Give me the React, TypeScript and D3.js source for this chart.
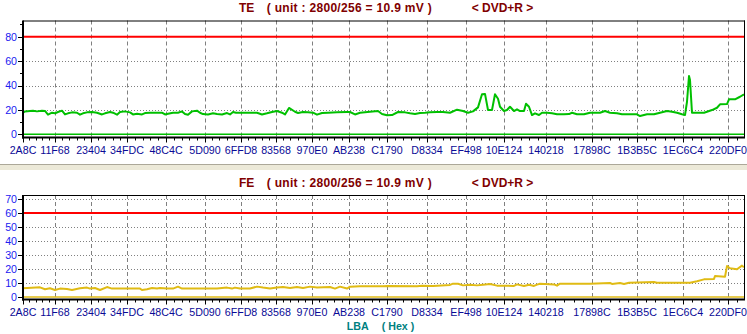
import React from "react";
import * as d3 from "d3";

// ---- data ----
const xTickLabels = [
  "2A8C", "11F68", "23404", "34FDC", "48C4C", "5D090", "6FFD8", "83568", "970E0",
  "AB238", "C1790", "D8334", "EF498", "10E124", "140218", "17898C", "1B3B5C", "1EC6C4", "220DF0",
];
// sample index at which each LBA label sits
const xTickSamples = [0, 32, 68, 104, 143, 182, 218, 253, 289, 326, 364, 404, 443, 481, 523, 569, 614, 660, 705];
const sampleMax = 721;

const teTicks = [0, 20, 40, 60, 80];
const teMinorTicks = [10, 30, 50, 70, 90];
const feTicks = [0, 10, 20, 30, 40, 50, 60, 70];
const teLimit = 80;
const feLimit = 60;

const teSeries: [number, number][] = [
  [0, 17.7], [2, 18.8], [7, 19.2], [10, 19.4], [14, 18.8], [19, 19.4], [22, 19.2], [25, 16.1],
  [29, 17.7], [32, 17.2], [35, 18.3], [39, 19.4], [42, 16.3], [45, 17.2], [49, 18.0], [54, 17.7],
  [57, 16.1], [60, 17.2], [64, 18.0], [69, 18.3], [74, 17.7], [79, 16.3], [82, 17.2], [87, 18.3],
  [90, 17.7], [94, 16.1], [97, 18.3], [102, 18.8], [107, 18.0], [110, 16.3], [114, 16.9], [119, 16.3],
  [122, 17.4], [127, 17.7], [134, 17.7], [139, 17.7], [142, 16.3], [145, 16.9], [150, 17.7], [155, 17.7],
  [159, 18.8], [162, 16.6], [165, 16.1], [169, 18.8], [174, 19.4], [177, 17.7], [180, 16.6], [185, 16.3],
  [190, 17.2], [194, 16.6], [199, 16.3], [204, 17.4], [207, 16.3], [210, 18.3], [213, 17.7], [219, 17.7],
  [227, 17.7], [234, 17.7], [239, 16.3], [244, 17.2], [249, 18.3], [254, 19.1], [259, 17.7], [262, 16.3],
  [266, 21.6], [272, 18.5], [275, 17.5], [280, 18.3], [285, 18.0], [290, 17.7], [294, 16.1], [299, 17.5],
  [305, 17.7], [314, 18.0], [324, 18.3], [327, 18.3], [332, 16.3], [337, 17.7], [347, 18.5], [355, 19.1],
  [359, 16.6], [364, 15.6], [369, 15.8], [375, 18.3], [382, 18.0], [387, 17.2], [392, 16.6], [397, 17.5],
  [402, 17.7], [407, 18.0], [414, 18.3], [420, 18.3], [427, 17.7], [434, 20.2], [440, 19.1], [445, 17.7],
  [450, 18.8], [455, 22.1], [459, 32.8], [462, 33.1], [465, 19.9], [469, 19.9], [472, 32.8], [475, 29.2],
  [477, 22.6], [481, 19.1], [484, 19.9], [487, 22.6], [491, 19.1], [494, 20.5], [497, 19.1], [501, 19.1],
  [503, 25.1], [506, 22.6], [509, 15.8], [512, 17.2], [516, 15.8], [519, 17.7], [524, 17.7], [529, 17.2],
  [534, 16.4], [541, 16.4], [546, 16.6], [549, 17.7], [554, 16.4], [561, 16.4], [567, 17.7], [577, 17.7],
  [582, 19.1], [587, 17.7], [594, 17.2], [599, 16.4], [607, 16.4], [614, 16.4], [617, 15.0], [624, 16.4],
  [631, 16.4], [637, 17.7], [644, 19.1], [649, 18.5], [654, 17.7], [659, 16.4], [662, 15.8], [664, 26.7],
  [666, 47.8], [667, 44.5], [669, 17.7], [674, 17.7], [681, 17.7], [684, 18.5], [689, 19.9], [694, 21.8],
  [697, 24.6], [704, 24.8], [706, 28.7], [712, 28.7], [717, 30.8], [721, 32.8],
];

const feSeries: [number, number][] = [
  [0, 6.2], [17, 6.9], [22, 5.5], [27, 6.2], [32, 5.0], [37, 6.0], [44, 5.7], [49, 5.0],
  [57, 6.2], [64, 6.7], [67, 6.0], [72, 6.4], [77, 5.0], [84, 7.1], [89, 6.0], [104, 6.0],
  [117, 6.0], [119, 5.0], [124, 5.5], [129, 6.4], [134, 6.0], [137, 6.4], [144, 6.0], [150, 6.0],
  [155, 7.4], [159, 6.0], [170, 6.0], [184, 6.0], [194, 6.0], [204, 6.7], [209, 6.0], [212, 6.7],
  [217, 6.0], [227, 6.0], [234, 7.4], [240, 6.7], [247, 6.0], [254, 6.7], [260, 7.1], [267, 6.4],
  [274, 7.1], [280, 6.4], [287, 7.4], [294, 6.7], [307, 7.1], [312, 6.0], [317, 7.4], [324, 6.0],
  [327, 7.4], [337, 7.6], [360, 7.6], [365, 7.9], [394, 7.6], [399, 8.1], [410, 7.9], [427, 8.6],
  [430, 9.5], [435, 9.5], [440, 8.3], [447, 8.8], [454, 8.3], [460, 8.8], [467, 9.3], [474, 8.1],
  [491, 7.9], [494, 9.0], [501, 7.9], [506, 8.8], [511, 7.9], [514, 8.8], [517, 9.5], [531, 9.0],
  [534, 8.1], [537, 9.5], [567, 9.5], [587, 10.0], [589, 9.3], [597, 10.0], [601, 9.3], [606, 10.2],
  [631, 10.7], [634, 10.2], [667, 10.2], [674, 11.2], [681, 12.6], [691, 12.9], [692, 15.0], [702, 14.5],
  [704, 22.1], [707, 20.5], [714, 19.8], [719, 22.4], [721, 21.2],
];

const W = 747;
const H = 334;
const LEFT = 23;
const RIGHT = 744.5;

const x = d3.scaleLinear().domain([0, sampleMax]).range([LEFT, RIGHT - 0.5]);

// minor x ticks: 5 subdivisions between majors, continued past the last major
const xMinor: number[] = [];
for (let i = 0; i < xTickSamples.length - 1; i++) {
  const a = xTickSamples[i], b = xTickSamples[i + 1];
  for (let k = 1; k < 5; k++) xMinor.push(a + ((b - a) * k) / 5);
}
{
  const n = xTickSamples.length;
  const step = (xTickSamples[n - 1] - xTickSamples[n - 2]) / 5;
  for (let s = xTickSamples[n - 1] + step; s < sampleMax; s += step) xMinor.push(s);
}

const X_LABEL = "#0a0a96";
const Y_LABEL = "#2020f0";
const TITLE = "#800000";
const GRID = "#808080";
const FONT = "Arial, 'Liberation Sans', sans-serif";

type PanelProps = {
  top: number;
  bottom: number;
  y: d3.ScaleLinear<number, number>;
  ticks: number[];
  minor: number[];
  limit: number;
  series: [number, number][];
  color: string;
  name: string;
  titleY: number;
};

function Panel({ top, bottom, y, ticks, minor, limit, series, color, name, titleY }: PanelProps) {
  const line = d3
    .line<[number, number]>()
    .x((d) => x(d[0]))
    .y((d) => y(d[1]));
  return (
    <g>
      {/* title */}
      <text x={239} y={titleY} fill={TITLE} fontFamily={FONT} fontSize={12} fontWeight="bold">
        {name}
      </text>
      <text x={266.7} y={titleY} fill={TITLE} fontFamily={FONT} fontSize={12} fontWeight="bold" textLength={165} lengthAdjust="spacing">
        ( unit : 2800/256 = 10.9 mV )
      </text>
      <text x={471.7} y={titleY} fill={TITLE} fontFamily={FONT} fontSize={12} fontWeight="bold">
        {"< DVD+R >"}
      </text>

      {/* horizontal dotted grid */}
      {ticks.filter((t) => t !== 0 && t !== limit).map((t) => (
        <line key={"hg" + t} x1={LEFT} x2={RIGHT} y1={Math.round(y(t)) + 0.5} y2={Math.round(y(t)) + 0.5} stroke={GRID} strokeWidth={1} strokeDasharray="1,2" />
      ))}
      {/* vertical dashed grid */}
      {xTickSamples.slice(1).map((s) => (
        <line key={"vg" + s} x1={Math.round(x(s)) + 0.5} x2={Math.round(x(s)) + 0.5} y1={top} y2={bottom} stroke={GRID} strokeWidth={1} strokeDasharray="4,3" />
      ))}

      {/* limit line */}
      <line x1={LEFT} x2={RIGHT} y1={y(limit)} y2={y(limit)} stroke="#ff0000" strokeWidth={2} />
      {/* zero line */}
      <line x1={LEFT} x2={RIGHT} y1={y(0)} y2={y(0)} stroke={color} strokeWidth={1.5} />
      {/* data */}
      <path d={line(series) || ""} fill="none" stroke={color} strokeWidth={2} strokeLinejoin="round" />

      {/* frame */}
      <line x1={LEFT} x2={RIGHT + 0.5} y1={top + 0.5} y2={top + 0.5} stroke="#000" strokeWidth={1} />
      <line x1={RIGHT} x2={RIGHT} y1={top} y2={bottom} stroke="#000" strokeWidth={1} />
      <line x1={LEFT} x2={LEFT} y1={top} y2={bottom + 1} stroke="#000" strokeWidth={2} />
      <line x1={LEFT - 1} x2={RIGHT + 0.5} y1={bottom} y2={bottom} stroke="#000" strokeWidth={2} />

      {/* y ticks and labels */}
      {ticks.map((t) => (
        <g key={"yt" + t}>
          <line x1={LEFT - 5} x2={LEFT} y1={Math.round(y(t)) + 0.5} y2={Math.round(y(t)) + 0.5} stroke="#000" strokeWidth={1} />
          <text x={17} y={y(t)} dy="0.36em" textAnchor="end" fill={Y_LABEL} fontFamily={FONT} fontSize={10.67}>
            {t}
          </text>
        </g>
      ))}
      {minor.map((t) => (
        <line key={"ym" + t} x1={LEFT - 3} x2={LEFT} y1={Math.round(y(t)) + 0.5} y2={Math.round(y(t)) + 0.5} stroke="#000" strokeWidth={1} />
      ))}

      {/* x ticks and labels */}
      {xTickSamples.map((s, i) => (
        <g key={"xt" + s}>
          <line x1={Math.round(x(s)) + 0.5} x2={Math.round(x(s)) + 0.5} y1={bottom} y2={bottom + 5} stroke="#000" strokeWidth={1} />
          <text x={x(s)} y={bottom + 16.8} textAnchor="middle" fill={X_LABEL} fontFamily={FONT} fontSize={10.67}>
            {xTickLabels[i]}
          </text>
        </g>
      ))}
      {xMinor.map((s, i) => (
        <line key={"xm" + i} x1={Math.round(x(s)) + 0.5} x2={Math.round(x(s)) + 0.5} y1={bottom} y2={bottom + 3} stroke="#000" strokeWidth={1} />
      ))}
    </g>
  );
}

export default function App() {
  const yTE = d3.scaleLinear().domain([-2.6, 93.1]).range([137.5, 20.7]);
  const yFE = d3.scaleLinear().domain([-1.8, 72.9]).range([299.5, 195]);
  return (
    <svg width={W} height={H} style={{ position: "absolute", left: 0, top: 0, background: "#fff" }}>
      <rect x={0} y={0} width={W} height={H} fill="#fff" />
      <Panel top={20.5} bottom={137.5} y={yTE} ticks={teTicks} minor={teMinorTicks} limit={teLimit} series={teSeries} color="#00c000" name="TE" titleY={12.3} />
      {/* separator band */}
      <rect x={0} y={164} width={W} height={6} fill="#ece9d8" />
      <line x1={0} x2={W} y1={164.5} y2={164.5} stroke="#aca899" strokeWidth={1} />
      <Panel top={195} bottom={299.5} y={yFE} ticks={feTicks} minor={[]} limit={feLimit} series={feSeries} color="#e0bb14" name="FE" titleY={186.7} />
      <text x={346.7} y={330} fill="#008080" fontFamily={FONT} fontSize={10.67} fontWeight="bold">LBA</text>
      <text x={381.7} y={330} fill="#008080" fontFamily={FONT} fontSize={10.67} fontWeight="bold">( Hex )</text>
    </svg>
  );
}
